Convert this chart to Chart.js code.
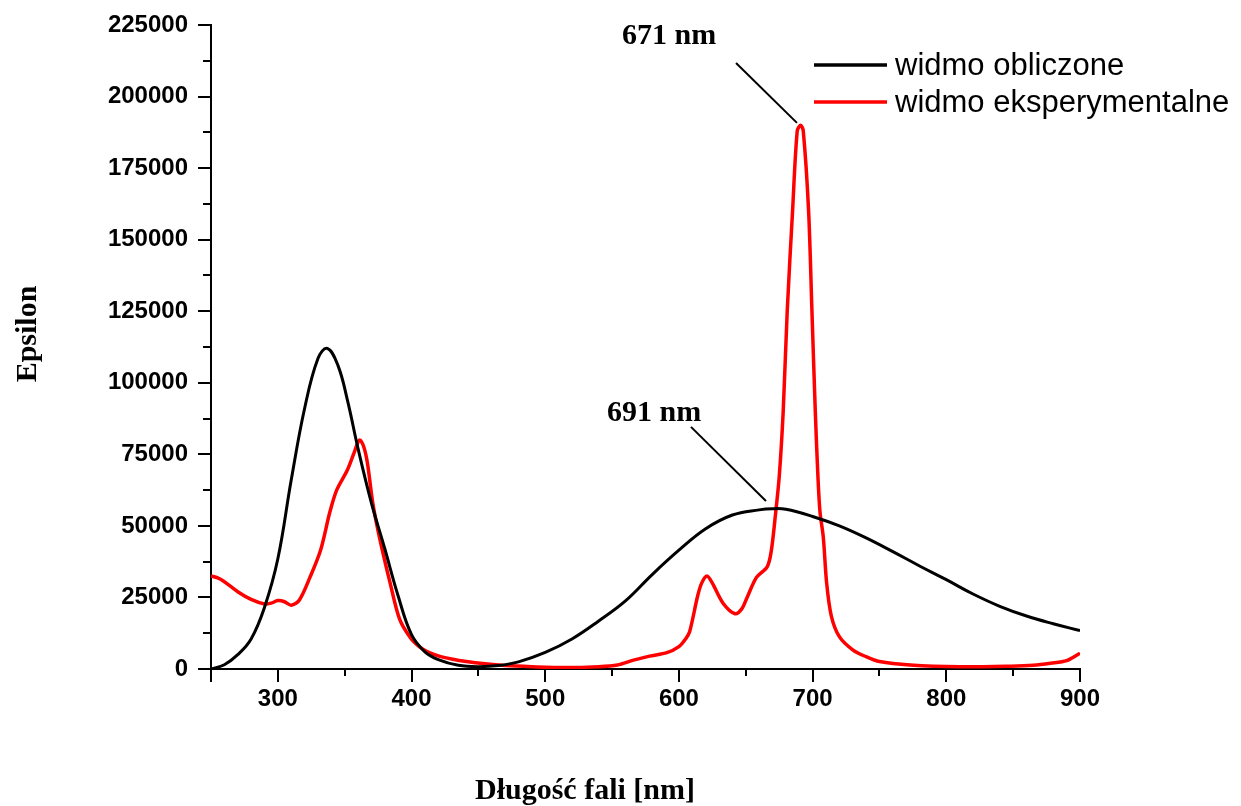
<!DOCTYPE html>
<html>
<head>
<meta charset="utf-8">
<script src="https://cdn.jsdelivr.net/npm/chart.js@4/dist/chart.umd.min.js"></script>
<style>
  html, body { margin: 0; padding: 0; background: #fff; }
  #wrap { width: 1241px; height: 806px; position: relative; }
</style>
</head>
<body>
<div id="wrap"><canvas id="chart"></canvas></div>
<script>
// widmo obliczone (black)
const calcNm = [250, 260, 270, 280, 290, 300, 310, 320, 330, 337, 345, 352, 360, 370, 380, 390, 400, 410, 420, 435, 450, 465, 480, 500, 520, 540, 560, 580, 600, 620, 640, 660, 670, 680, 700, 720, 740, 760, 780, 800, 820, 840, 860, 880, 900];
const calcEps = [0, 1500, 5000, 10500, 21500, 38500, 66000, 91000, 108500, 112000, 106000, 94000, 77000, 58000, 42000, 25500, 12000, 6000, 3300, 1300, 800, 1200, 2500, 5800, 10500, 16800, 23800, 33000, 41500, 49000, 53800, 55600, 56000, 55800, 53300, 50000, 45800, 41000, 36000, 31200, 26200, 21900, 18500, 15800, 13400];

// widmo eksperymentalne (red)
const expNm = [250, 255, 260, 270, 280, 290, 295, 300, 305, 310, 316, 324, 332, 339, 344, 352, 357, 361, 364, 367, 371, 376, 384, 391, 399, 406, 412, 420, 430, 441, 455, 470, 490, 515, 540, 554, 566, 578, 591, 600, 605, 608, 614, 617, 621, 625, 633, 642, 647, 651, 658, 666, 669, 672, 675, 678, 681, 685, 688.5, 691, 693, 697, 699.5, 702, 704, 705.5, 708, 710.5, 714, 720, 730, 740, 750, 773, 810, 848, 865, 878, 890, 900];
const expEps = [32500, 31800, 30500, 27000, 24300, 22700, 23000, 23900, 23500, 22300, 24000, 32000, 41600, 55000, 62500, 69500, 75500, 80000, 78000, 72000, 58000, 46000, 30000, 17500, 11000, 7700, 6000, 4600, 3500, 2600, 1800, 1200, 800, 500, 800, 1400, 3100, 4500, 5700, 7800, 10500, 13000, 25500, 30000, 32500, 30000, 23000, 19300, 21000, 25000, 32000, 35700, 41000, 53000, 67000, 90000, 125000, 160000, 188000, 190000, 188000, 160000, 125000, 90000, 67000, 55000, 46000, 30000, 18500, 11300, 6700, 4300, 2600, 1400, 800, 1000, 1300, 2000, 2900, 5500];

const seriesLabels = ["widmo obliczone", "widmo eksperymentalne"];

const xTicks = [250, 300, 400, 500, 600, 700, 800, 900];
const xTickLabels = ["", "300", "400", "500", "600", "700", "800", "900"];
const xMinorTicks = [350, 450, 550, 650, 750, 850];
const yTicks = [0, 25000, 50000, 75000, 100000, 125000, 150000, 175000, 200000, 225000];
const yTickLabels = ["0", "25000", "50000", "75000", "100000", "125000", "150000", "175000", "200000", "225000"];
const yMinorTicks = [12500, 37500, 62500, 87500, 112500, 137500, 162500, 187500, 212500];

// peak labels: text anchor and leader line, in data units
const peakNotes = [
  { text: "671 nm", at: [592.6, 221000], from: [642.7, 211700], to: [688.3, 190800] },
  { text: "691 nm", at: [581.4, 89400], from: [609.0, 84600], to: [665.1, 58700] },
];

const toXY = (xs, ys) => xs.map((x, i) => ({ x: x, y: ys[i] }));

const overlay = {
  id: "overlay",
  afterDraw(chart) {
    const ctx = chart.ctx;
    const xs = chart.scales.x, ys = chart.scales.y;
    const area = chart.chartArea;
    ctx.save();
    ctx.strokeStyle = "#000";
    ctx.lineWidth = 2;
    // minor ticks
    xMinorTicks.forEach((v) => {
      const px = Math.round(xs.getPixelForValue(v));
      ctx.beginPath(); ctx.moveTo(px, area.bottom); ctx.lineTo(px, area.bottom + 7); ctx.stroke();
    });
    yMinorTicks.forEach((v) => {
      const py = Math.round(ys.getPixelForValue(v));
      ctx.beginPath(); ctx.moveTo(area.left, py); ctx.lineTo(area.left - 8, py); ctx.stroke();
    });

    // peak notes
    ctx.fillStyle = "#000";
    ctx.font = "bold 30px 'Liberation Serif', 'Times New Roman', serif";
    ctx.textAlign = "center";
    ctx.textBaseline = "middle";
    ctx.lineWidth = 2;
    peakNotes.forEach((n) => {
      ctx.fillText(n.text, xs.getPixelForValue(n.at[0]), ys.getPixelForValue(n.at[1]));
      ctx.beginPath();
      ctx.moveTo(xs.getPixelForValue(n.from[0]), ys.getPixelForValue(n.from[1]));
      ctx.lineTo(xs.getPixelForValue(n.to[0]), ys.getPixelForValue(n.to[1]));
      ctx.stroke();
    });

    // legend
    ctx.font = "31px 'Liberation Sans', Arial, sans-serif";
    ctx.textAlign = "left";
    chart.data.datasets.forEach((ds, i) => {
      const y = 65 + i * 37;
      ctx.strokeStyle = ds.borderColor;
      ctx.lineWidth = 3.5;
      ctx.beginPath(); ctx.moveTo(814, y); ctx.lineTo(887, y); ctx.stroke();
      ctx.fillText(ds.label, 895, y + 1);
    });

    // axis titles
    ctx.font = "bold 30px 'Liberation Serif', 'Times New Roman', serif";
    ctx.textAlign = "center";
    ctx.textBaseline = "alphabetic";
    ctx.fillText("Długość fali [nm]", 585, 799);
    ctx.translate(36, 334);
    ctx.rotate(-Math.PI / 2);
    ctx.fillText("Epsilon", 0, 0);
    ctx.restore();
  },
};

const tickFont = { family: "'Liberation Sans', Arial, sans-serif", size: 24, weight: "bold" };

new Chart(document.getElementById("chart"), {
  type: "line",
  data: {
    datasets: [
      {
        label: seriesLabels[0],
        data: toXY(calcNm, calcEps),
        borderColor: "#000000",
        borderWidth: 3,
        pointRadius: 0,
        tension: 0.4,
      },
      {
        label: seriesLabels[1],
        data: toXY(expNm, expEps),
        borderColor: "#ff0000",
        borderWidth: 3.5,
        pointRadius: 0,
        tension: 0.3,
      },
    ],
  },
  options: {
    responsive: true,
    maintainAspectRatio: false,
    animation: false,
    layout: { padding: { top: 25, right: 161, bottom: 0, left: 0 } },
    plugins: { legend: { display: false }, tooltip: { enabled: false } },
    scales: {
      x: {
        type: "linear",
        min: 250, max: 900,
        afterBuildTicks: (s) => { s.ticks = xTicks.map((v) => ({ value: v })); },
        afterFit: (s) => { s.height = 137; },
        ticks: {
          color: "#000", font: tickFont, padding: 3, maxRotation: 0, autoSkip: false,
          callback: (v, i) => xTickLabels[i],
        },
        grid: { drawOnChartArea: false, drawTicks: true, tickLength: 13, color: "#000", lineWidth: 2 },
        border: { color: "#000", width: 2 },
      },
      y: {
        min: 0, max: 225000,
        afterBuildTicks: (s) => { s.ticks = yTicks.map((v) => ({ value: v })); },
        afterFit: (s) => { s.width = 211; },
        ticks: {
          color: "#000", font: tickFont, padding: 10, autoSkip: false,
          callback: (v, i) => yTickLabels[i],
        },
        grid: { drawOnChartArea: false, drawTicks: true, tickLength: 13, color: "#000", lineWidth: 2 },
        border: { color: "#000", width: 2 },
      },
    },
  },
  plugins: [overlay],
});
</script>
</body>
</html>
